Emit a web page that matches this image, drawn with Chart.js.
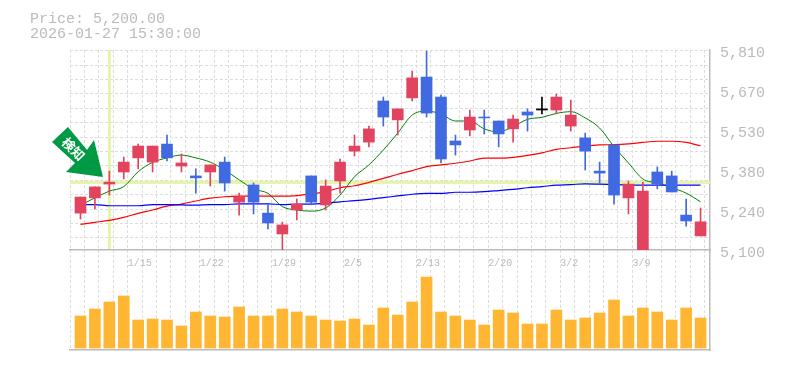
<!DOCTYPE html>
<html lang="ja">
<head>
<meta charset="UTF-8">
<title>Price chart</title>
<style>
    html, body { margin: 0; padding: 0; background: #fff; }
    #wrap { position: relative; width: 785px; height: 370px; overflow: hidden; }
    #info { position: absolute; left: 30px; top: 12px; font: 15px/15px "Liberation Mono", monospace; color: #bbb; white-space: pre; }
    canvas { position: absolute; left: 0; top: 0; }
</style>
<script src="https://cdn.jsdelivr.net/npm/chart.js"></script>
</head>
<body>
<div id="wrap">
    <canvas id="c" width="785" height="370"></canvas>
    <div id="info">Price: 5,200.00
2026-01-27 15:30:00</div>
</div>
<script>
    // candles
    var opens  = [5231,5285,5334,5377,5427,5412,5476,5398,5363,5377,5412,5270,5331,5231,5157,5242,5363,5260,5345,5451,5483,5629,5562,5640,5714,5643,5487,5526,5572,5558,5530,5590,5601,5597,5540,5498,5380,5473,5285,5100,5377,5363,5224,5150];
    var closes = [5288,5324,5341,5412,5469,5469,5427,5409,5356,5402,5338,5288,5270,5196,5189,5263,5270,5327,5412,5469,5530,5572,5601,5711,5586,5423,5473,5572,5569,5512,5565,5579,5597,5643,5579,5451,5373,5295,5334,5309,5334,5306,5203,5200];
    var highs  = [5288,5324,5380,5430,5476,5469,5508,5441,5388,5402,5430,5302,5338,5260,5199,5281,5363,5349,5423,5508,5540,5643,5601,5735,5806,5650,5508,5597,5597,5558,5579,5601,5643,5654,5632,5515,5412,5473,5345,5341,5395,5380,5281,5249];
    var lows   = [5210,5246,5295,5352,5388,5377,5416,5377,5302,5327,5309,5224,5228,5175,5100,5207,5263,5242,5302,5434,5466,5540,5508,5629,5572,5409,5437,5505,5512,5466,5483,5522,5583,5583,5522,5384,5338,5263,5228,5100,5317,5306,5185,5150];
    var candleKinds = "rrrrrrbrbrbrbbrrbrrrrbrrbbbrbbrbkrrbbbrrbbbr";

    var maShort = [5259,5285,5309,5325,5378,5411,5427,5437,5427,5412,5384,5349,5317,5301,5254,5242,5238,5249,5295,5360,5402,5455,5515,5579,5593,5583,5558,5558,5530,5519,5538,5564,5571,5585,5591,5569,5533,5467,5409,5352,5338,5321,5302,5271];
    var maMid   = [5191,5198,5205,5216,5230,5242,5256,5263,5274,5284,5289,5291,5291,5291,5291,5293,5299,5307,5321,5328,5340,5354,5369,5382,5396,5402,5408,5416,5426,5426,5429,5436,5445,5457,5463,5469,5473,5474,5477,5482,5486,5486,5482,5470];
    var maLong  = [5261,5261,5257,5257,5257,5261,5261,5260,5259,5261,5261,5264,5264,5264,5261,5263,5263,5266,5271,5275,5280,5286,5292,5298,5301,5301,5305,5305,5307,5311,5315,5321,5325,5330,5332,5335,5334,5332,5331,5330,5330,5330,5330,5330];

    var volumes = [32,39,46,52,28,29,28,22,36,32,31,41,32,32,39,36,32,28,27,29,23,40,33,46,71,36,32,28,23,38,35,24,24,38,28,30,35,48,32,40,36,28,40,30];

    var xTickIndex  = [4,9,14,19,24,29,34,39];
    var xTickLabels = ["1/15","1/22","1/29","2/5","2/13","2/20","3/2","3/9"];
    var yTickValues = [5810,5668,5526,5384,5242,5100];
    var yTickLabels = ["5,810","5,670","5,530","5,380","5,240","5,100"];

    var crossIndex = 2;
    var crossPrice = 5340;

    var RED = "#e2435f", BLUE = "#4169e1", BLACK = "#000";
    var GREY = "#bbb";
    var kindColor = { r: RED, b: BLUE, k: BLACK };

    // candle pitch is 14.42px in a 640px wide plot, first candle 10.5px in
    var xMin = -10.5 / 14.42;
    var xMax = xMin + 640 / 14.42;

    function colors() {
        return opens.map(function (o, i) { return kindColor[candleKinds[i]]; });
    }
    function lineData(arr) {
        return arr.map(function (v, i) { return { x: i, y: v }; });
    }
    function lineSet(arr, color, width) {
        return {
            type: "line", data: lineData(arr), xAxisID: "x", yAxisID: "y",
            borderColor: color, borderWidth: width, pointRadius: 0,
            cubicInterpolationMode: "monotone", order: 3
        };
    }

    var overlay = {
        id: "overlay",
        beforeDatasetsDraw: function (chart) {
            // crosshair sits behind the candles
            var ctx = chart.ctx, a = chart.chartArea;
            var px = chart.scales.x.getPixelForValue(crossIndex);
            var py = chart.scales.y.getPixelForValue(crossPrice);
            ctx.save();
            ctx.fillStyle = "#e4f5aa";
            ctx.fillRect(a.left, py - 1.5, a.right - a.left, 3);
            ctx.fillRect(px - 1.5, a.top, 3, chart.scales.y.bottom - a.top - 1);
            ctx.restore();
        },
        afterDraw: function (chart) {
            var ctx = chart.ctx;
            ctx.save();
            ctx.fillStyle = "#009944";
            ctx.beginPath();
            ctx.moveTo(68, 127);
            ctx.lineTo(52, 142);
            ctx.lineTo(75, 163);
            ctx.lineTo(66, 172);
            ctx.lineTo(103, 177);
            ctx.lineTo(94, 140);
            ctx.lineTo(87, 150);
            ctx.closePath();
            ctx.fill();
            ctx.translate(73.5, 149);
            ctx.rotate(Math.PI / 4);
            ctx.fillStyle = "#fff";
            ctx.font = "bold 13px 'Noto Sans CJK JP'";
            ctx.textAlign = "center";
            ctx.textBaseline = "middle";
            ctx.fillText("検知", 0, 0);
            ctx.restore();
        }
    };

    new Chart(document.getElementById("c"), {
        type: "bar",
        plugins: [overlay],
        data: {
            datasets: [
                {
                    data: opens.map(function (o, i) { return { x: i, y: [o, closes[i]] }; }),
                    backgroundColor: colors(), barThickness: 11, order: 1,
                    xAxisID: "x", yAxisID: "y", grouped: false
                },
                {
                    data: lows.map(function (l, i) { return { x: i, y: [l, highs[i]] }; }),
                    backgroundColor: colors(), barThickness: 1, order: 2,
                    xAxisID: "x", yAxisID: "y", grouped: false
                },
                {
                    data: volumes.map(function (v, i) { return { x: i, y: v }; }),
                    backgroundColor: "#ffb733", barThickness: 11, order: 1,
                    xAxisID: "x", yAxisID: "yv", grouped: false
                },
                lineSet(maLong, "#0000ff", 1.2),
                lineSet(maMid, "#ff0000", 1.2),
                lineSet(maShort, "#008000", 1)
            ]
        },
        options: {
            responsive: false,
            animation: false,
            layout: { padding: { left: 70, top: 50, bottom: 20, right: 0 } },
            plugins: { legend: { display: false }, tooltip: { enabled: false } },
            scales: {
                x: {
                    type: "linear", min: xMin, max: xMax, offset: false,
                    position: { y: 5100 },
                    grid: { display: false, drawTicks: false, offset: false },
                    border: { color: GREY, width: 1.5 },
                    afterBuildTicks: function (s) {
                        s.ticks = xTickIndex.map(function (v) { return { value: v }; });
                    },
                    ticks: {
                        autoSkip: false, maxRotation: 0, padding: 7, align: "start", labelOffset: -10.5,
                        color: GREY, font: { family: "Liberation Mono", size: 10 },
                        callback: function (v) { return xTickLabels[xTickIndex.indexOf(v)]; }
                    }
                },
                xg: {
                    type: "linear", min: xMin, max: xMax, position: "bottom", offset: false,
                    grid: { color: "#ddd", drawTicks: false, offset: false },
                    border: { color: GREY, width: 1.5, dash: [3, 2] },
                    afterBuildTicks: function (s) {
                        var t = [];
                        for (var k = 0; k < 45; k++) t.push({ value: xMin + k });
                        s.ticks = t;
                    },
                    ticks: { display: false }
                },
                y: {
                    min: 5100, max: 5810, position: "right", stack: "p", stackWeight: 2,
                    grid: { display: false, drawTicks: false },
                    border: { color: GREY, width: 1.5 },
                    afterBuildTicks: function (s) {
                        s.ticks = yTickValues.map(function (v) { return { value: v }; });
                    },
                    afterFit: function (s) { s.width = 75; },
                    ticks: {
                        autoSkip: false, padding: 10, labelOffset: 3,
                        color: GREY, font: { family: "Liberation Mono", size: 15 },
                        callback: function (v) { return yTickLabels[yTickValues.indexOf(v)]; }
                    }
                },
                yv: {
                    min: -2, max: 98, position: "right", stack: "p", stackWeight: 1,
                    grid: { display: false, drawTicks: false },
                    border: { color: GREY, width: 1.5 },
                    afterFit: function (s) { s.width = 75; },
                    ticks: { display: false }
                },
                yg: {
                    // only carries the dashed rows of the price panel, 14.4px apart
                    min: 0, max: 300, reverse: true, position: "left",
                    grid: { color: "#ddd", drawTicks: false },
                    border: { display: false, dash: [3, 2] },
                    afterBuildTicks: function (s) {
                        var t = [];
                        for (var k = 0; k < 14; k++) t.push({ value: 0.7 + k * 14.4 });
                        s.ticks = t;
                    },
                    afterFit: function (s) { s.width = 0; },
                    ticks: { display: false }
                }
            }
        }
    });
</script>
</body>
</html>
